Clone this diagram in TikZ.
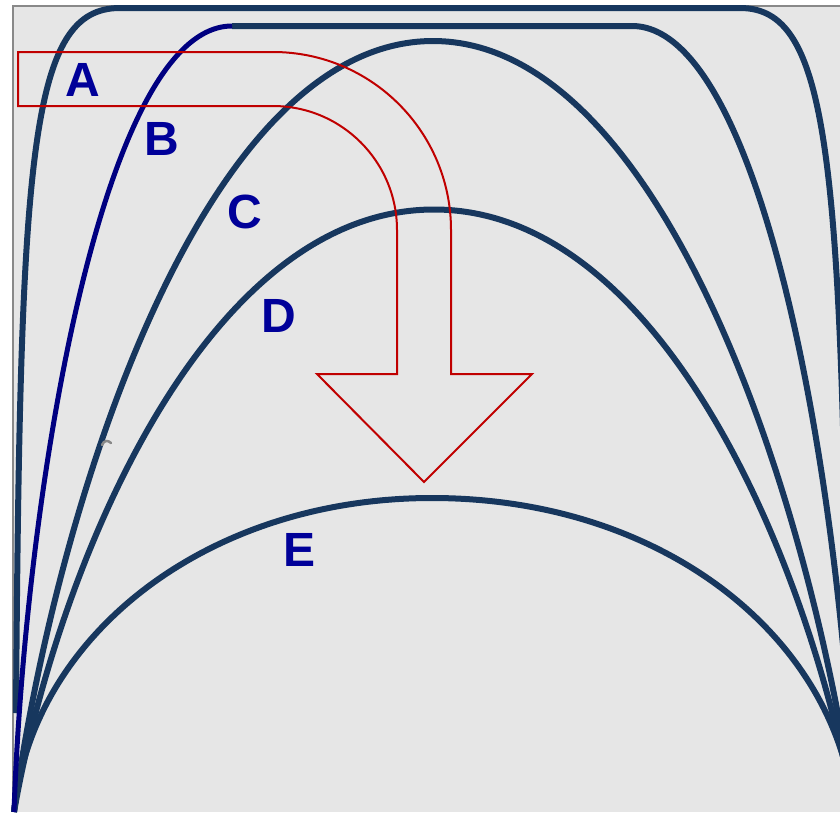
\documentclass[tikz,border=0pt]{standalone}
\usepackage{fontspec}
\setmainfont{Liberation Sans}
\definecolor{slate}{HTML}{17375E}
\definecolor{navyline}{HTML}{000080}
\definecolor{lblblue}{HTML}{000099}
\definecolor{arrowred}{HTML}{C00000}
\definecolor{panel}{HTML}{E6E6E6}
\definecolor{rim}{HTML}{898989}

\begin{document}
\begin{tikzpicture}[
  x=1pt, y=-1pt,
  curve/.style={draw=slate, line width=6pt},
  bcurve/.style={draw=navyline, line width=5pt},
  flow/.style={draw=arrowred, line width=2pt, line join=miter},
  lbl/.style={font=\fontsize{48}{48}\selectfont\bfseries, text=lblblue, inner sep=0pt},
]
\useasboundingbox (0,0) rectangle (840,812);
% --- Panel ---
\fill[panel] (13,6) rectangle (840,812);
\draw[rim, line width=2.5pt] (13,812) -- (13,6) -- (840,6);

\coordinate (footL) at (14,812);
\coordinate (footR) at (854,812);

\begin{scope}
\clip (0,0) rectangle (840,812);
% --- Curves A, C, D, E ---
\draw[curve] (16,713) .. controls (20,150) and (30,8) .. (120,8) -- (740,8)
  .. controls (828,8) and (842,150) .. (848,713) -- (footR);
\draw[curve] (footL) .. controls (56,504) and (203,41) .. (433,41)
  .. controls (663,41) and (812,504) .. (footR);
\draw[curve] (footL) .. controls (56,571) and (203,209.5) .. (434,209.5)
  .. controls (665,209.5) and (812,571) .. (footR);
\draw[curve] (footL) .. controls (30.8,639) and (203,498) .. (432,498)
  .. controls (665,498) and (837.2,639) .. (footR);
% --- Curve B ---
\draw[curve] (232,26) -- (632,26) .. controls (764,26) and (843.1,497.6) .. (footR);
\draw[bcurve] (footL) .. controls (24.9,497.6) and (101.2,26) .. (232,26);
\end{scope}

% --- Small mark ---
\draw[rim, line width=2.5pt, line cap=round] (102,445) .. controls (104,440) and (108,440) .. (111,443);

% --- Bent arrow ---
\draw[flow] (18,52) -- (273,52) .. controls (371.3,52) and (451,131.7) .. (451,230)
  -- (451,374) -- (532,374) -- (424,482) -- (317,374) -- (397,374) -- (397,230)
  .. controls (397,161.5) and (341.5,106) .. (273,106) -- (18,106) -- cycle;

% --- Labels ---
\node[lbl] (labA) at (83,79.5) {A};
\node[lbl] (labB) at (162,139) {B};
\node[lbl] (labC) at (245,212) {C};
\node[lbl] (labD) at (279,316) {D};
\node[lbl] (labE) at (300,549.5) {E};
\end{tikzpicture}
\end{document}
